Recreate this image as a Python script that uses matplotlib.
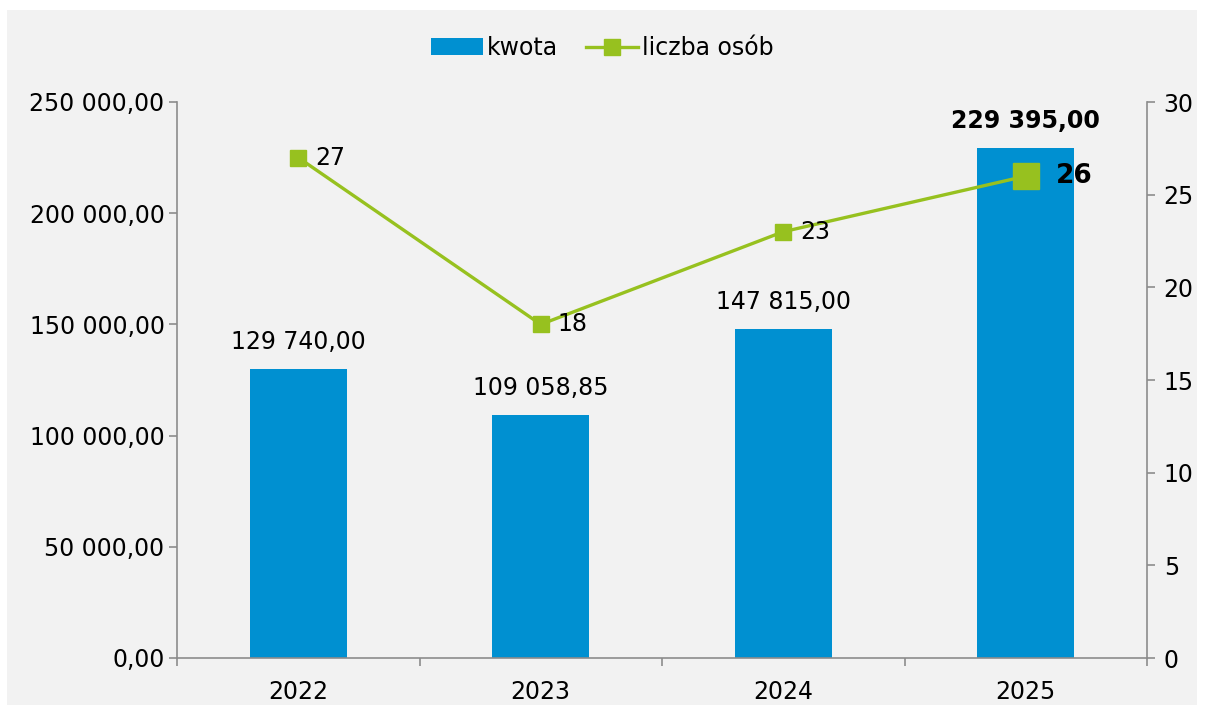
import matplotlib

matplotlib.use("Agg")
import matplotlib.pyplot as plt
from matplotlib.patches import Rectangle

years = ["2022", "2023", "2024", "2025"]
kwota = [129740.00, 109058.85, 147815.00, 229395.00]
liczba_osob = [27, 18, 23, 26]
kwota_labels = ["129 740,00", "109 058,85", "147 815,00", "229 395,00"]
left_ticks = [0, 50000, 100000, 150000, 200000, 250000]
left_tick_labels = ["0,00", "50 000,00", "100 000,00", "150 000,00", "200 000,00", "250 000,00"]
right_ticks = [0, 5, 10, 15, 20, 25, 30]

BAR = "#0090D1"
LINE = "#97C11F"
BG = "#F2F2F2"
SPINE = "#8C8C8C"
FS = 17

plt.rcParams["font.family"] = ["DejaVu Sans"]

fig = plt.figure(figsize=(12.05, 7.15), dpi=100, facecolor="white")
fig.patches.append(Rectangle((7 / 1205, 10 / 715), 1190 / 1205, 695 / 715,
                             transform=fig.transFigure, facecolor=BG,
                             edgecolor="none", zorder=-10))

ax = fig.add_axes([177 / 1205, 57 / 715, 970 / 1205, 556 / 715])
ax.set_facecolor(BG)
ax.patch.set_alpha(0)
x = list(range(len(years)))
bars = ax.bar(x, kwota, width=0.4, color=BAR, label="kwota", zorder=2)
ax.set_xlim(-0.5, len(years) - 0.5)
ax.set_ylim(0, 250000)
ax.set_yticks(left_ticks)
ax.set_yticklabels(left_tick_labels, fontsize=FS)
ax.set_xticks(x)
ax.set_xticklabels(years, fontsize=FS)
ax.set_xticks([i + 0.5 for i in range(-1, len(years))], minor=True)
ax.tick_params(axis="x", which="major", length=0, pad=16)
ax.tick_params(axis="x", which="minor", length=6, color=SPINE, width=1.2)
ax.tick_params(axis="y", length=6, color=SPINE, width=1.2, pad=3)
for s in ["top", "right"]:
    ax.spines[s].set_visible(False)
for s in ["left", "bottom"]:
    ax.spines[s].set_color(SPINE)
    ax.spines[s].set_linewidth(1.2)

for i, (xi, v, lab) in enumerate(zip(x, kwota, kwota_labels)):
    bold = i == len(years) - 1
    ax.annotate(lab, (xi, v), xytext=(0, 11), textcoords="offset points",
                ha="center", va="bottom", fontsize=FS,
                fontweight="bold" if bold else "normal")

ax2 = ax.twinx()
ax2.set_ylim(0, 30)
ax2.set_yticks(right_ticks)
ax2.set_yticklabels([str(t) for t in right_ticks], fontsize=FS)
ax2.tick_params(axis="y", length=6, color=SPINE, width=1.2, pad=6)
for s in ["top", "left", "bottom"]:
    ax2.spines[s].set_visible(False)
ax2.spines["right"].set_color(SPINE)
ax2.spines["right"].set_linewidth(1.2)

line, = ax2.plot(x, liczba_osob, color=LINE, linewidth=2.4, marker="s",
                 markersize=11, markerfacecolor=LINE, markeredgecolor=LINE,
                 label="liczba osób", zorder=3)
last = len(years) - 1
ax2.plot([x[last]], [liczba_osob[last]], marker="s", markersize=19,
         color=LINE, linestyle="none", zorder=4)
for i, (xi, v) in enumerate(zip(x, liczba_osob)):
    bold = i == last
    ax2.annotate(str(v), (xi, v), xytext=(22 if bold else 12, 0),
                 textcoords="offset points", ha="left", va="center",
                 fontsize=FS + (2 if bold else 0),
                 fontweight="bold" if bold else "normal")

fig.legend([bars, line], ["kwota", "liczba osób"], loc="center",
           bbox_to_anchor=(0.5, 1 - 48 / 715), ncol=2, frameon=False,
           fontsize=FS, handlelength=2.2, handletextpad=0.15, columnspacing=1.2)

fig.savefig("out.png", dpi=100, facecolor="white")
